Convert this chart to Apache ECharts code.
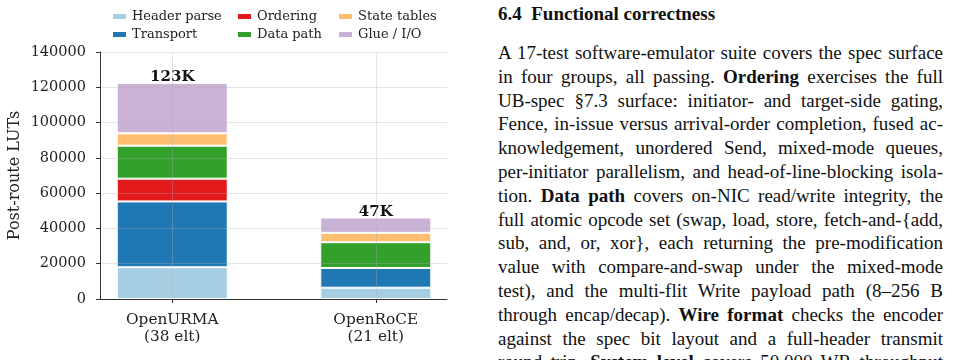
<!DOCTYPE html>
<html>
<head>
<meta charset="utf-8">
<script src="https://cdn.jsdelivr.net/npm/echarts@6/dist/echarts.min.js"></script>
<style>
  html, body { margin: 0; padding: 0; background: #fff; }
  #page { position: relative; width: 956px; height: 360px; overflow: hidden; }
  #chart { position: absolute; left: 0; top: 0; width: 470px; height: 360px; }
  .txt {
    position: absolute; left: 498px; width: 445px;
    font-family: "Liberation Serif", serif; font-size: 19px; line-height: 23.8px; color: #111;
  }
  .txt div { text-align: justify; text-align-last: justify; }
  #head { position: absolute; left: 498px; top: 1.7px; font-family: "Liberation Serif", serif;
    font-size: 19px; line-height: 23.8px; font-weight: bold; color: #111; }
</style>
</head>
<body>
<div id="page">
  <div id="chart"></div>
  <div id="head">6.4&nbsp;&nbsp;Functional correctness</div>
  <div class="txt" style="top:41px">
    <div>A 17-test software-emulator suite covers the spec surface</div>
    <div>in four groups, all passing. <b>Ordering</b> exercises the full</div>
    <div>UB-spec §7.3 surface: initiator- and target-side gating,</div>
    <div>Fence, in-issue versus arrival-order completion, fused ac-</div>
    <div>knowledgement, unordered Send, mixed-mode queues,</div>
    <div>per-initiator parallelism, and head-of-line-blocking isola-</div>
    <div>tion. <b>Data path</b> covers on-NIC read/write integrity, the</div>
    <div>full atomic opcode set (swap, load, store, fetch-and-{add,</div>
    <div>sub, and, or, xor}, each returning the pre-modification</div>
    <div>value with compare-and-swap under the mixed-mode</div>
    <div>test), and the multi-flit Write payload path (8–256 B</div>
    <div>through encap/decap). <b>Wire format</b> checks the encoder</div>
    <div>against the spec bit layout and a full-header transmit</div>
    <div>round trip. <b>System level</b> covers 50,000 WR throughput</div>
  </div>
</div>
<script>
// designs on the x axis
const categories = ['OpenURMA\n(38 elt)', 'OpenRoCE\n(21 elt)'];
const totalLabels = ['123K', '47K'];

// post-route LUTs per block
const headerParse = [18000, 6400];
const transport = [37300, 11200];
const ordering = [12900, 0];
const dataPath = [18700, 14600];
const stateTables = [7000, 5300];
const glueIO = [28500, 8700];

const serif = '"DejaVu Serif", serif';
const gridColor = 'rgba(175,175,175,0.32)';

const blocks = [
  { name: 'Header parse', values: headerParse, color: '#a6cee3' },
  { name: 'Transport', values: transport, color: '#1f78b4' },
  { name: 'Ordering', values: ordering, color: '#e31a1c' },
  { name: 'Data path', values: dataPath, color: '#33a02c' },
  { name: 'State tables', values: stateTables, color: '#fdbf6f' },
  { name: 'Glue / I/O', values: glueIO, color: '#cab2d6' },
];

// value first so the stack sums the LUT dimension, position second
const series = blocks.map((b, i) => {
  const s = {
    name: b.name,
    type: 'bar',
    stack: 'luts',
    barWidth: 111,
    encode: { x: 1, y: 0 },
    itemStyle: { color: b.color, borderColor: '#fff', borderWidth: 1 },
    data: b.values.map((v, k) => [v, k]),
  };
  if (i === blocks.length - 1) {
    s.label = {
      show: true,
      position: 'top',
      distance: -2,
      formatter: (p) => totalLabels[p.dataIndex],
      fontFamily: serif,
      fontWeight: 'bold',
      fontSize: 15,
      color: '#111',
    };
  }
  return s;
});

const legendCol = (left, names) => ({
  orient: 'vertical',
  left,
  top: 9,
  padding: 0,
  itemWidth: 15,
  itemHeight: 7,
  itemGap: 3,
  icon: 'rect',
  data: names,
  textStyle: { fontFamily: serif, fontSize: 13, color: '#222', lineHeight: 15 },
});

const chart = echarts.init(document.getElementById('chart'));
chart.setOption({
  animation: false,
  legend: [
    legendCol(111, ['Header parse', 'Transport']),
    legendCol(236, ['Ordering', 'Data path']),
    legendCol(337, ['State tables', 'Glue / I/O']),
  ],
  grid: { left: 100, right: 23, top: 52, bottom: 61, outerBoundsMode: 'none' },
  xAxis: {
    type: 'value',
    min: -0.355,
    max: 1.35,
    z: 5,
    axisLine: { show: true, onZero: false, lineStyle: { color: '#333', width: 1 } },
    axisTick: { show: true, customValues: [0, 1], length: 4, lineStyle: { color: '#333' } },
    axisLabel: {
      customValues: [0, 1],
      formatter: (v) => categories[Math.round(v)],
      fontFamily: serif,
      fontSize: 15.3,
      color: '#222',
      lineHeight: 17,
      margin: 13,
    },
    splitLine: { show: true, lineStyle: { color: gridColor, width: 1 } },
  },
  yAxis: {
    type: 'value',
    min: 0,
    max: 140000,
    interval: 20000,
    z: 5,
    name: 'Post-route LUTs',
    nameLocation: 'middle',
    nameGap: 77,
    nameMoveOverlap: false,
    nameTextStyle: { fontFamily: serif, fontSize: 16, color: '#222' },
    axisLine: { show: true, onZero: false, lineStyle: { color: '#333', width: 1 } },
    axisTick: { show: true, length: 4, lineStyle: { color: '#333' } },
    axisLabel: {
      fontFamily: serif, fontSize: 14.5, color: '#222', margin: 14,
      formatter: (v) => String(v),
    },
    splitLine: { show: true, lineStyle: { color: gridColor, width: 1 } },
  },
  series,
});
</script>
</body>
</html>
